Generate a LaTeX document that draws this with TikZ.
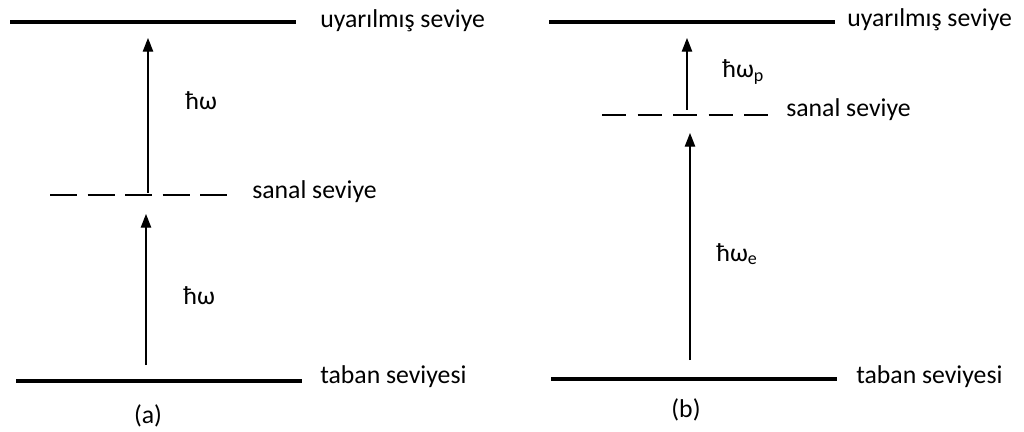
\documentclass[tikz,border=0pt]{standalone}
\usepackage{fontspec}
\setmainfont{Carlito}
\usetikzlibrary{arrows.meta, positioning}

\begin{document}
\begin{tikzpicture}[
  x=0.025cm, y=-0.025cm,
  level/.style={line width=2.2pt},
  virtual/.style={line width=0.8pt},
  photon/.style={-{Triangle[length=0.34cm, width=0.26cm]}, line width=0.8pt},
  lbl/.style={font=\fontsize{18.3}{21}\selectfont, inner sep=0pt, anchor=west},
  tag/.style={font=\fontsize{18.3}{21}\selectfont, inner sep=0pt},
]
\useasboundingbox (0,0) rectangle (1024,432);

% (a) two equal photons
\coordinate (a-up-l) at (10,22);  \coordinate (a-up-r) at (296,22);
\coordinate (a-vs-l) at (50,195); \coordinate (a-vs-r) at (227,195);
\coordinate (a-gr-l) at (16,381); \coordinate (a-gr-r) at (302,381);
\draw[level] (a-up-l) -- (a-up-r);
\draw[virtual, dash pattern=on 0.675cm off 0.2625cm] (a-vs-l) -- (a-vs-r);
\draw[level] (a-gr-l) -- (a-gr-r);
\node[lbl] (a-up) at (320,21) {uyarılmış seviye};
\node[lbl] (a-vs) at (252,192) {sanal seviye};
\node[lbl] (a-gr) at (320,377) {taban seviyesi};

\coordinate (a-p1s) at (146,365); \coordinate (a-p1e) at (146,214);
\coordinate (a-p2s) at (148,193); \coordinate (a-p2e) at (148,38);
\draw[photon] (a-p1s) -- (a-p1e);
\draw[photon] (a-p2s) -- (a-p2e);
\node[lbl] (a-w1) at (183,296) {ħω};
\node[lbl] (a-w2) at (185,101) {ħω};
\node[tag] (a-cap) at (148,416) {(a)};

% (b) pump and emission
\coordinate (b-up-l) at (549,22);  \coordinate (b-up-r) at (835,22);
\coordinate (b-vs-l) at (602,115); \coordinate (b-vs-r) at (768,115);
\coordinate (b-gr-l) at (551,379); \coordinate (b-gr-r) at (837,379);
\draw[level] (b-up-l) -- (b-up-r);
\draw[virtual, dash pattern=on 0.6cm off 0.2875cm] (b-vs-l) -- (b-vs-r);
\draw[level] (b-gr-l) -- (b-gr-r);
\node[lbl] (b-up) at (847,20) {uyarılmış seviye};
\node[lbl] (b-vs) at (786,110) {sanal seviye};
\node[lbl] (b-gr) at (856,377) {taban seviyesi};

\coordinate (b-p1s) at (690,360); \coordinate (b-p1e) at (690,133);
\coordinate (b-p2s) at (687,110); \coordinate (b-p2e) at (687,38);
\draw[photon] (b-p1s) -- (b-p1e);
\draw[photon] (b-p2s) -- (b-p2e);
\node[lbl] (b-we) at (716,254) {ħω\textsubscript{e}};
\node[lbl] (b-wp) at (722,72) {ħω\textsubscript{p}};
\node[tag] (b-cap) at (686,410) {(b)};
\end{tikzpicture}
\end{document}
